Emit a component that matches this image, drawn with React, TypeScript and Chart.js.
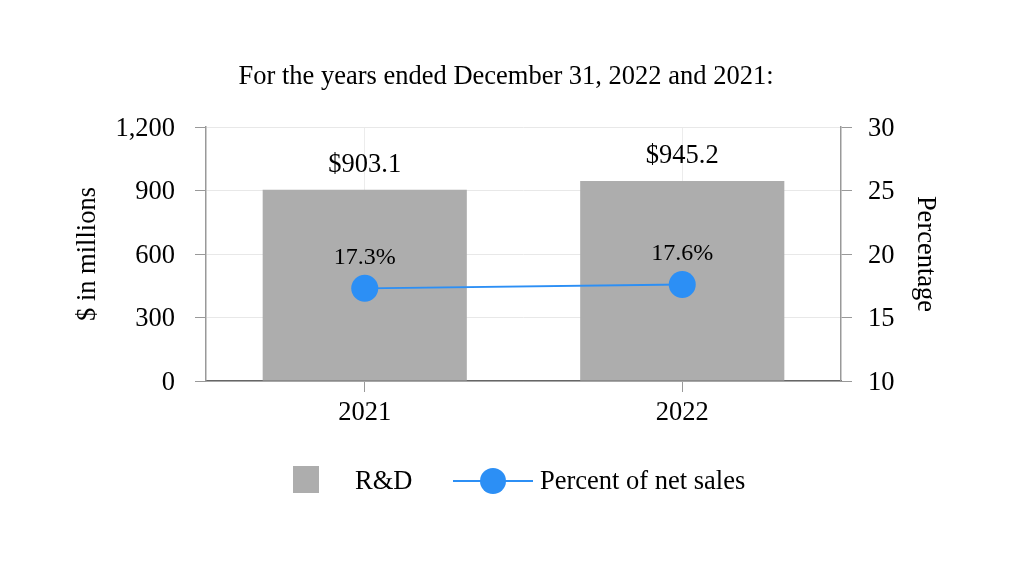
import React, { useEffect, useRef } from "react";
import { Chart, registerables } from "chart.js";

Chart.register(...registerables);

const categories = ["2021", "2022"];
const rdValues = [903.1, 945.2];
const pctValues = [17.3, 17.6];
const seriesNames = ["R&D", "Percent of net sales"];
const titleText = "For the years ended December 31, 2022 and 2021:";
const leftAxisTitle = "$ in millions";
const rightAxisTitle = "Percentage";

const FONT = "'Liberation Serif', 'Times New Roman', serif";
const FS = 26.5;
const BAR_COLOR = "#adadad";
const LINE_COLOR = "#2c8ff5";

const labelPlugin = {
  id: "valueLabels",
  afterDatasetsDraw(chart: any) {
    const ctx = chart.ctx;
    ctx.save();
    ctx.fillStyle = "#000";
    ctx.textAlign = "center";
    ctx.textBaseline = "middle";
    chart.data.datasets.forEach((ds: any, di: number) => {
      const meta = chart.getDatasetMeta(di);
      meta.data.forEach((el: any, i: number) => {
        const v = ds.data[i];
        if (ds.type === "bar") {
          ctx.font = `${FS}px ${FONT}`;
          ctx.fillText(`$${v.toFixed(1)}`, el.x, el.y - 25);
        } else {
          ctx.font = `24px ${FONT}`;
          ctx.fillText(`${v.toFixed(1)}%`, el.x, el.y - 31);
        }
      });
    });
    ctx.restore();
  },
};

const legendPlugin = {
  id: "customLegend",
  afterDraw(chart: any) {
    const ctx = chart.ctx;
    const barDs = chart.data.datasets.find((d: any) => d.type === "bar");
    const lineDs = chart.data.datasets.find((d: any) => d.type === "line");
    const cy = 480;
    ctx.save();
    // bar item
    ctx.fillStyle = barDs.backgroundColor;
    ctx.fillRect(293, cy - 14, 26, 27);
    ctx.fillStyle = "#000";
    ctx.font = `${FS}px ${FONT}`;
    ctx.textAlign = "left";
    ctx.textBaseline = "middle";
    ctx.fillText(barDs.label, 355, cy + 2);
    // line item
    ctx.strokeStyle = lineDs.borderColor;
    ctx.lineWidth = 2;
    ctx.beginPath();
    ctx.moveTo(453, cy + 1);
    ctx.lineTo(533, cy + 1);
    ctx.stroke();
    ctx.fillStyle = lineDs.borderColor;
    ctx.beginPath();
    ctx.arc(493, cy + 1, 13, 0, Math.PI * 2);
    ctx.fill();
    ctx.fillStyle = "#000";
    ctx.fillText(lineDs.label, 540, cy + 2);
    ctx.restore();
  },
};

export default function App() {
  const ref = useRef<HTMLCanvasElement | null>(null);

  useEffect(() => {
    if (!ref.current) return;
    const chart = new Chart(ref.current, {
      type: "bar",
      data: {
        labels: categories,
        datasets: [
          {
            type: "line" as any,
            label: seriesNames[1],
            data: pctValues,
            yAxisID: "y1",
            borderColor: LINE_COLOR,
            backgroundColor: LINE_COLOR,
            borderWidth: 1.8,
            pointRadius: 13.5,
            pointHoverRadius: 13.5,
            pointBackgroundColor: LINE_COLOR,
            pointBorderWidth: 0,
            order: 0,
          },
          {
            type: "bar" as any,
            label: seriesNames[0],
            data: rdValues,
            yAxisID: "y",
            backgroundColor: BAR_COLOR,
            categoryPercentage: 1,
            barPercentage: 0.643,
            order: 1,
          },
        ] as any,
      },
      options: {
        responsive: false,
        animation: false,
        devicePixelRatio: 1,
        layout: { padding: { top: 61, left: 0, right: 0, bottom: 0 } },
        plugins: {
          legend: { display: false },
          tooltip: { enabled: false },
          title: {
            display: true,
            text: titleText,
            color: "#000",
            font: { family: FONT, size: FS, weight: "normal" as any },
            padding: { top: 0, bottom: 34.2 },
          },
        },
        scales: {
          x: {
            grid: {
              offset: false,
              color: "#ececec",
              tickColor: "#999",
              tickLength: 11,
            },
            border: { color: "#666", width: 1.5 },
            ticks: {
              color: "#000",
              font: { family: FONT, size: FS },
              padding: 5,
            },
            afterFit: (scale: any) => {
              scale.height = 189;
            },
          },
          y: {
            position: "left",
            min: 0,
            max: 1200,
            ticks: {
              stepSize: 300,
              color: "#000",
              font: { family: FONT, size: FS },
              padding: 20,
              labelOffset: 2,
            },
            grid: { color: "#e8e8e8", tickColor: "#999", tickLength: 11 },
            border: { color: "#999", width: 1.5 },
            title: {
              display: true,
              text: leftAxisTitle,
              color: "#000",
              font: { family: FONT, size: FS },
              padding: { top: 72.1, bottom: 0 },
            },
            afterFit: (scale: any) => {
              scale.width = 206;
            },
          },
          y1: {
            position: "right",
            min: 10,
            max: 30,
            ticks: {
              stepSize: 5,
              color: "#000",
              font: { family: FONT, size: FS },
              padding: 16,
              labelOffset: 2,
            },
            grid: {
              drawOnChartArea: false,
              tickColor: "#999",
              tickLength: 11,
            },
            border: { color: "#999", width: 1.5 },
            title: {
              display: true,
              text: rightAxisTitle,
              color: "#000",
              font: { family: FONT, size: FS },
              padding: { top: 71.1, bottom: 0 },
            },
            afterFit: (scale: any) => {
              scale.width = 171;
            },
          },
        },
      },
      plugins: [labelPlugin, legendPlugin],
    });
    return () => chart.destroy();
  }, []);

  return (
    <div style={{ position: "absolute", left: 0, top: 0, width: 1012, height: 570, background: "#fff" }}>
      <canvas ref={ref} width={1012} height={570} style={{ width: 1012, height: 570, display: "block" }} />
    </div>
  );
}
